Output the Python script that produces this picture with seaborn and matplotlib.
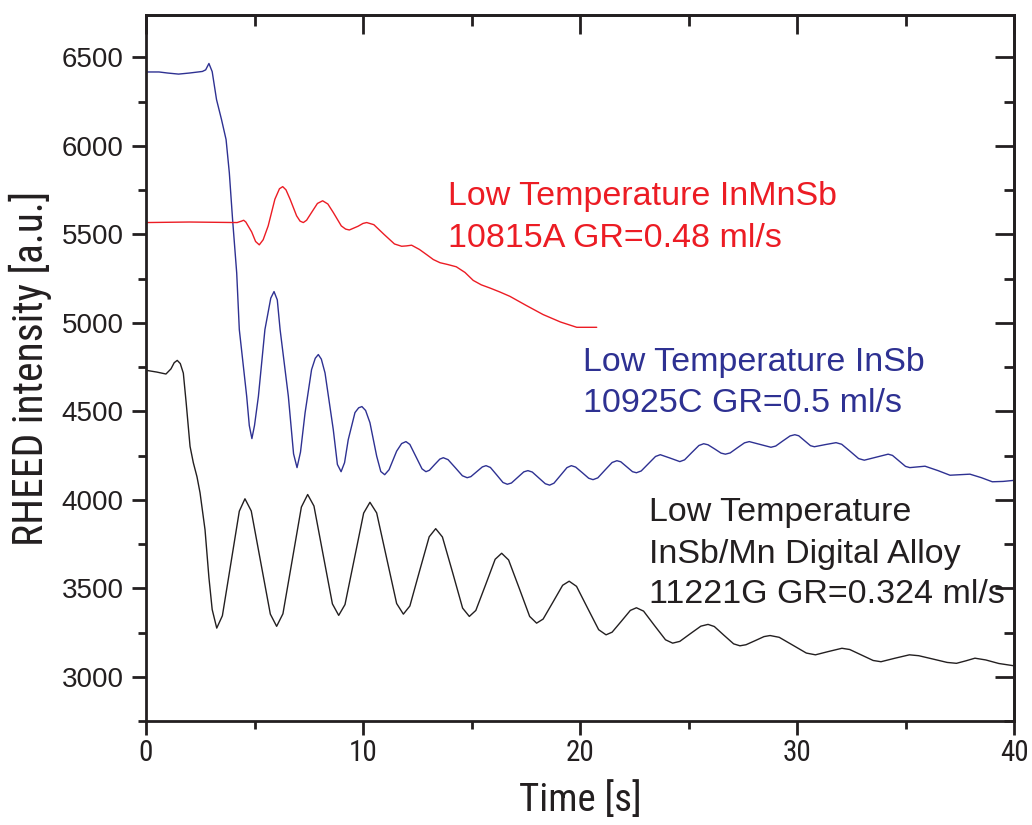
import matplotlib
matplotlib.use("Agg")
import matplotlib.pyplot as plt
from matplotlib import font_manager
from matplotlib.ticker import MultipleLocator
import seaborn as sns
import pandas as pd

# ---- data ----
black_t = [0, 0.5, 0.92, 1.15, 1.3, 1.44, 1.58, 1.72, 1.85, 2.03, 2.18, 2.35, 2.49, 2.72, 2.9, 3.05, 3.26,
           3.52, 3.91, 4.30, 4.56, 4.85, 5.29, 5.73, 6.02, 6.31, 6.735, 7.16, 7.45, 7.74, 8.165, 8.59, 8.88,
           9.17, 9.6, 10.03, 10.32, 10.63, 11.09, 11.55, 11.86, 12.16, 12.6, 13.05, 13.35, 13.66, 14.13, 14.59, 14.9,
           15.2, 15.65, 16.09, 16.39, 16.71, 17.2, 17.68, 18.0, 18.3, 18.75, 19.2, 19.5, 19.84, 20.35, 20.86, 21.2,
           21.48, 21.9, 22.32, 22.6, 22.93, 23.43, 23.94, 24.27, 24.6, 25.08, 25.57, 25.9, 26.19, 26.63, 27.08, 27.37,
           27.65, 28.07, 28.48, 28.76, 29.18, 29.8, 30.43, 30.85, 31.46, 32.07, 32.43, 32.97, 33.51, 33.87, 34.52, 35.18,
           35.61, 36.27, 36.92, 37.35, 37.78, 38.2, 38.7, 39.3, 40.0]
black_y = [4732, 4722, 4711, 4740, 4775, 4788, 4770, 4716, 4550, 4302, 4210, 4130, 4040, 3831, 3560, 3380, 3275,
           3345, 3640, 3936, 4006, 3937, 3645, 3354, 3285, 3356, 3657, 3959, 4030, 3965, 3688, 3412, 3347,
           3408, 3666, 3925, 3986, 3926, 3670, 3414, 3354, 3400, 3595, 3791, 3837, 3790, 3589, 3388, 3341,
           3375, 3520, 3664, 3698, 3660, 3500, 3341, 3303, 3326, 3421, 3517, 3540, 3511, 3388, 3266, 3237,
           3252, 3313, 3375, 3390, 3371, 3290, 3209, 3190, 3200, 3243, 3286, 3296, 3284, 3235, 3186, 3175,
           3181, 3204, 3227, 3233, 3223, 3179, 3134, 3124, 3143, 3161, 3154, 3123, 3092, 3085, 3105, 3124,
           3119, 3100, 3081, 3076, 3090, 3105, 3095, 3075, 3062]

blue_t = [0, 0.6, 1.0, 1.5, 2.0, 2.6, 2.75, 2.9, 3.05, 3.25, 3.48, 3.69, 3.84, 3.99, 4.18, 4.3, 4.64, 4.76,
          4.88, 5.0, 5.18, 5.48, 5.75, 5.9, 6.05, 6.18, 6.56, 6.8, 6.96, 7.12, 7.33, 7.63, 7.8, 7.94, 8.08,
          8.25, 8.63, 8.82, 8.99, 9.15, 9.32, 9.63, 9.8, 9.95, 10.12, 10.32, 10.63, 10.82, 11.0, 11.2, 11.55,
          11.78, 11.98,
          12.16, 12.44, 12.72, 12.9, 13.06, 13.3, 13.54, 13.7, 13.92, 14.25, 14.58, 14.8, 14.97, 15.24, 15.5,
          15.67, 15.87, 16.16, 16.45, 16.65, 16.84, 17.13, 17.41, 17.6, 17.8, 18.1, 18.4, 18.6, 18.8, 19.1,
          19.4, 19.6, 19.8, 20.1, 20.4, 20.6, 20.82, 21.15, 21.48, 21.7, 21.88, 22.15, 22.42, 22.6, 22.82,
          23.15, 23.48, 23.7, 24.15, 24.6, 24.82, 25.15, 25.48, 25.7, 25.9, 26.2, 26.5, 26.7, 26.92, 27.25,
          27.58, 27.8, 28.3, 28.8, 29.02, 29.35, 29.68, 29.9, 30.08, 30.35, 30.62, 30.8, 31.3, 31.8, 32.06,
          32.45, 32.84, 33.1, 33.65, 34.2, 34.4, 34.7, 35.0, 35.2, 35.55, 35.9, 36.5, 37.05, 37.97, 38.5,
          39.0, 39.5, 40.0]
blue_y = [6418, 6418, 6412, 6406, 6412, 6421, 6430, 6466, 6420, 6262, 6149, 6036, 5848, 5584, 5282, 4962, 4585, 4420,
          4346, 4420, 4585, 4962, 5140, 5177, 5130, 4962, 4585, 4260, 4182, 4270, 4491, 4736, 4800, 4821, 4795,
          4717, 4397, 4200, 4159, 4210, 4340, 4493, 4520, 4527, 4505, 4436, 4247, 4160, 4142, 4170, 4275,
          4318, 4329,
          4313, 4244, 4175, 4159, 4167, 4199, 4230, 4238, 4227, 4182, 4136, 4125, 4131, 4159, 4186,
          4193, 4183, 4141, 4098, 4088, 4095, 4127, 4158, 4165, 4157, 4124, 4091, 4083, 4094, 4138,
          4182, 4193, 4185, 4154, 4122, 4114, 4124, 4168, 4211, 4221, 4215, 4187, 4159, 4153, 4163,
          4204, 4245, 4255, 4236, 4216, 4226, 4267, 4307, 4317, 4311, 4288, 4264, 4258, 4265, 4294,
          4322, 4329, 4313, 4297, 4304, 4333, 4361, 4368, 4362, 4334, 4306, 4300, 4312, 4323, 4314,
          4274, 4233, 4224, 4241, 4258, 4251, 4220, 4189, 4182, 4186, 4190, 4165, 4139, 4145, 4125,
          4102, 4104, 4110]

red_t = [0, 2.0, 4.2, 4.4, 4.5, 4.6, 4.87, 5.05, 5.22, 5.4, 5.63, 5.94, 6.15, 6.3, 6.45, 6.64, 6.94, 7.1,
         7.25, 7.4, 7.63, 7.9, 8.14, 8.38, 8.63, 9.0, 9.2, 9.37, 9.77, 10.0, 10.17, 10.5, 10.97, 11.45, 11.78,
         12.0, 12.24, 12.6, 12.93, 13.24, 13.55, 13.9, 14.3, 14.7, 15.08, 15.45, 15.85, 16.3, 16.77, 17.5,
         18.3, 19.1, 19.85, 20.77]
red_y = [5567, 5570, 5567, 5575, 5580, 5570, 5514, 5460, 5441, 5470, 5548, 5699, 5758, 5770, 5752, 5699, 5605, 5575,
         5567, 5580, 5624, 5675, 5690, 5672, 5624, 5548, 5530, 5525, 5546, 5562, 5567, 5555, 5500, 5446, 5433,
         5435, 5439, 5415, 5386, 5358, 5340, 5330, 5317, 5285, 5240, 5215, 5197, 5175, 5150, 5100,
         5047, 5005, 4975, 4975]

x_ticks = [0, 10, 20, 30, 40]
y_ticks = [3000, 3500, 4000, 4500, 5000, 5500, 6000, 6500]

label_red = ["Low Temperature InMnSb", "10815A GR=0.48 ml/s"]
label_blue = ["Low Temperature InSb", "10925C GR=0.5 ml/s"]
label_black = ["Low Temperature", "InSb/Mn Digital Alloy", "11221G GR=0.324 ml/s"]

C_RED = "#ec1c24"
C_BLUE = "#2e3192"
C_BLACK = "#231f20"

sns.set_theme(style="white")
plt.rcParams["font.family"] = ["Liberation Sans", "DejaVu Sans"]

_names = {f.name for f in font_manager.fontManager.ttflist}
NARROW = None
for cand in ["Liberation Sans Narrow", "DejaVu Sans Condensed", "Roboto Condensed"]:
    if cand in _names:
        NARROW = cand
        break

fig = plt.figure(figsize=(10.32, 8.25), dpi=100)
ax = fig.add_axes([146 / 1032, 1 - 721 / 825, (1014 - 146) / 1032, (721 - 15) / 825])

for tt, yy, col in [(black_t, black_y, C_BLACK), (blue_t, blue_y, C_BLUE), (red_t, red_y, C_RED)]:
    df = pd.DataFrame({"t": tt, "I": yy})
    sns.lineplot(data=df, x="t", y="I", color=col, lw=1.0, sort=False, estimator=None, ax=ax)

ax.set_xlim(0, 40)
ax.set_ylim(2750, 6740)

ax.set_xticks(x_ticks)
if NARROW:
    ax.set_xticklabels([str(v) for v in x_ticks], fontsize=21, family=[NARROW, "Liberation Sans"])
else:
    ax.set_xticklabels([str(v) for v in x_ticks], fontsize=19)
ax.set_yticks(y_ticks)
ax.set_yticklabels([str(v) for v in y_ticks], fontsize=20)
ax.xaxis.set_minor_locator(MultipleLocator(5))
ax.yaxis.set_minor_locator(MultipleLocator(250))

ax.tick_params(which="major", direction="out", length=10, width=2, color=C_BLACK,
               bottom=True, left=True, top=False, right=False, pad=6, labelcolor=C_BLACK)
ax.tick_params(axis="x", which="major", pad=3)
ax.tick_params(which="minor", direction="out", length=6, width=2, color=C_BLACK,
               bottom=True, left=True, top=False, right=False)

for s in ax.spines.values():
    s.set_linewidth(2)
    s.set_color(C_BLACK)

top = ax.secondary_xaxis("top")
top.set_xticks(x_ticks)
top.xaxis.set_minor_locator(MultipleLocator(5))
top.tick_params(which="major", direction="in", length=14, width=2, color=C_BLACK, labeltop=False)
top.tick_params(which="minor", direction="in", length=8, width=2, color=C_BLACK)
top.spines["top"].set_linewidth(2)
right = ax.secondary_yaxis("right")
right.set_yticks(y_ticks)
right.yaxis.set_minor_locator(MultipleLocator(250))
right.tick_params(which="major", direction="in", length=14, width=2, color=C_BLACK, labelright=False)
right.tick_params(which="minor", direction="in", length=7, width=2, color=C_BLACK)
right.spines["right"].set_linewidth(2)

lab_fam = [NARROW, "Liberation Sans"] if NARROW else ["Liberation Sans"]
ax.set_xlabel("Time [s]", fontsize=28 if NARROW else 25, family=lab_fam, color=C_BLACK, labelpad=10)
ax.set_ylabel("RHEED intensity [a.u.]", fontsize=30 if NARROW else 26, family=lab_fam,
              color=C_BLACK, labelpad=7)


def put(lines, x, ys, color):
    for ln, yy in zip(lines, ys):
        ax.text(x, yy, ln, color=color, fontsize=24.5, va="baseline", ha="left")


put(label_red, 13.9, [5669, 5431], C_RED)
put(label_blue, 20.15, [4730, 4498], C_BLUE)
put(label_black, 23.2, [3882, 3645, 3418], C_BLACK)

fig.savefig("out.png", dpi=100)
